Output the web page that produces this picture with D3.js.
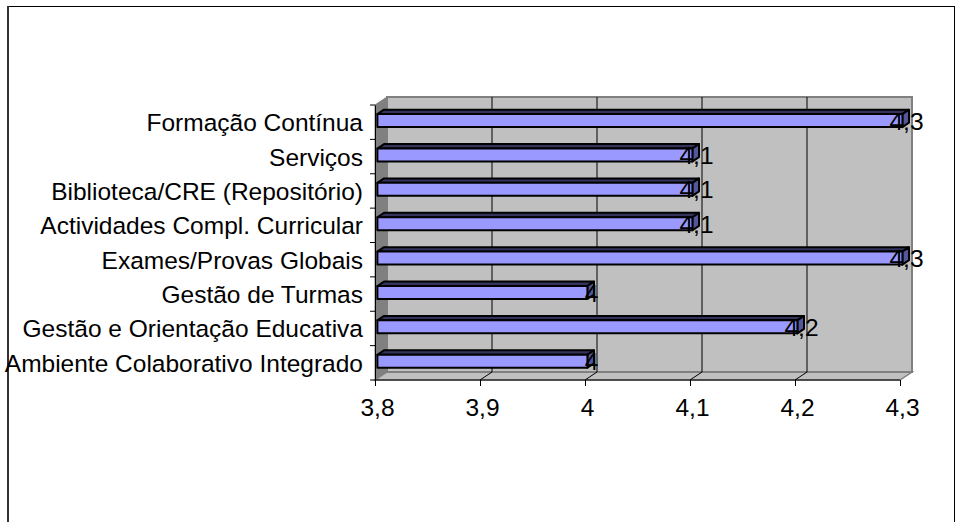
<!DOCTYPE html>
<html>
<head>
<meta charset="utf-8">
<script src="https://cdn.jsdelivr.net/npm/d3@7"></script>
<style>
  html, body { margin: 0; padding: 0; background: #ffffff; }
  svg { display: block; }
  text { font-family: "Liberation Sans", Arial, sans-serif; fill: #000; }
</style>
</head>
<body>
<script>
// Categories from top to bottom, and their average scores
const categories = [
  "Formação Contínua",
  "Serviços",
  "Biblioteca/CRE (Repositório)",
  "Actividades Compl. Curricular",
  "Exames/Provas Globais",
  "Gestão de Turmas",
  "Gestão e Orientação Educativa",
  "Ambiente Colaborativo Integrado"
];
const values = [4.3, 4.1, 4.1, 4.1, 4.3, 4, 4.2, 4];
const tickValues = [3.8, 3.9, 4.0, 4.1, 4.2, 4.3];
const tickLabels = ["3,8", "3,9", "4", "4,1", "4,2", "4,3"];

const W = 956, H = 522;
const FS = 24.5; // font size of all chart text
const svg = d3.select("body").append("svg").attr("width", W).attr("height", H);

// Outer chart frame
svg.append("rect").attr("x", 8).attr("y", 6.5).attr("width", 946.5).attr("height", 540)
  .attr("fill", "none").attr("stroke", "#000").attr("stroke-width", 1);
svg.append("line").attr("x1", 8).attr("x2", 8).attr("y1", 6).attr("y2", H)
  .attr("stroke", "#333").attr("stroke-width", 2);

// Scales on the front plane; depth shifts everything by (DX, DY)
const x = d3.scaleLinear().domain([3.8, 4.3]).range([375, 900]);
const y = d3.scaleBand().domain(categories).range([105, 380]).paddingInner(0).paddingOuter(0);
const DX = 12, DY = -8;
const P = (px, py, d) => [px + DX * d, py + DY * d];
const poly = pts => "M" + pts.map(p => p.join(",")).join("L") + "Z";

const x0 = x.range()[0], x1 = x.range()[1];
const yTop = y.range()[0], yBot = y.range()[1];

// Side wall (left)
svg.append("path")
  .attr("d", poly([P(x0, yTop, 0), P(x0, yTop, 1), P(x0, yBot, 1), P(x0, yBot, 0)]))
  .attr("fill", "#808080").attr("stroke", "#808080").attr("stroke-width", 1);

// Floor
svg.append("path")
  .attr("d", poly([P(x0, yBot, 0), P(x0, yBot, 1), P(x1, yBot, 1), P(x1, yBot, 0)]))
  .attr("fill", "#c0c0c0").attr("stroke", "#808080").attr("stroke-width", 1.5);

// Back wall
svg.append("path")
  .attr("d", poly([P(x0, yTop, 1), P(x1, yTop, 1), P(x1, yBot, 1), P(x0, yBot, 1)]))
  .attr("fill", "#c0c0c0").attr("stroke", "#808080").attr("stroke-width", 2);

// Gridlines on the back wall and across the floor
const inner = tickValues.slice(1, -1);
svg.append("g").selectAll("path").data(inner).join("path")
  .attr("d", v => "M" + P(x(v), yBot, 0).join(",") + "L" + P(x(v), yBot, 1).join(",") +
                  "L" + P(x(v), yTop, 1).join(","))
  .attr("fill", "none").attr("stroke", "#000").attr("stroke-width", 1);

// 3D bars
const D0 = 0.2, D1 = 0.75, HALF = 6.5;
const rows = categories.map((c, i) => ({ c, v: values[i] }));
const bars = svg.append("g").selectAll("g").data(rows).join("g");
bars.each(function (d) {
  const g = d3.select(this);
  const cy = y(d.c) + y.bandwidth() / 2;
  const xa = x(3.8), xb = x(d.v);
  const t = cy - HALF, b = cy + HALF;
  const face = (pts, fill) => g.append("path").attr("d", poly(pts))
    .attr("fill", fill).attr("stroke", "#000").attr("stroke-width", 2).attr("stroke-linejoin", "round");
  face([P(xa, t, D0), P(xa, t, D1), P(xb, t, D1), P(xb, t, D0)], "#33335c");   // top
  face([P(xb, t, D0), P(xb, t, D1), P(xb, b, D1), P(xb, b, D0)], "#55559a");   // end
  face([P(xa, t, D0), P(xb, t, D0), P(xb, b, D0), P(xa, b, D0)], "#9999ff");   // front
});

// Value labels at the bar ends
svg.append("g").selectAll("text").data(rows).join("text")
  .attr("x", d => x(d.v) + 6.5)
  .attr("y", d => y(d.c) + y.bandwidth() / 2 + 7.5)
  .attr("text-anchor", "middle")
  .attr("font-size", FS)
  .text(d => String(d.v).replace(".", ","));

// Category axis (front left edge)
const yAxis = d3.axisLeft(y).tickSize(0).tickFormat(() => "");
svg.append("g").attr("transform", `translate(${x0},0)`).call(yAxis)
  .call(g => g.select(".domain").attr("stroke", "#000").attr("stroke-width", 1));
svg.append("g").selectAll("line").data(d3.range(categories.length + 1))
  .join("line")
  .attr("x1", x0 - 5).attr("x2", x0)
  .attr("y1", i => yTop + i * y.step()).attr("y2", i => yTop + i * y.step())
  .attr("stroke", "#000");
svg.append("g").selectAll("text").data(categories).join("text")
  .attr("x", 363)
  .attr("y", c => y(c) + y.bandwidth() / 2 + 9)
  .attr("text-anchor", "end")
  .attr("font-size", FS)
  .text(c => c);

// Value axis (front bottom edge)
const xAxis = d3.axisBottom(x).tickValues(tickValues).tickSize(6)
  .tickFormat((v, i) => tickLabels[i]);
svg.append("g").attr("transform", `translate(0,${yBot})`).call(xAxis)
  .call(g => {
    g.select(".domain").attr("stroke", "#000").attr("d", `M${x0},0H${x1}`);
    g.selectAll(".tick line").attr("stroke", "#000");
    g.selectAll(".tick text").attr("font-size", FS)
      .attr("font-family", "'Liberation Sans', Arial, sans-serif")
      .attr("fill", "#000").attr("dy", "0").attr("y", 35.5).attr("dx", 2);
  });
</script>
</body>
</html>
